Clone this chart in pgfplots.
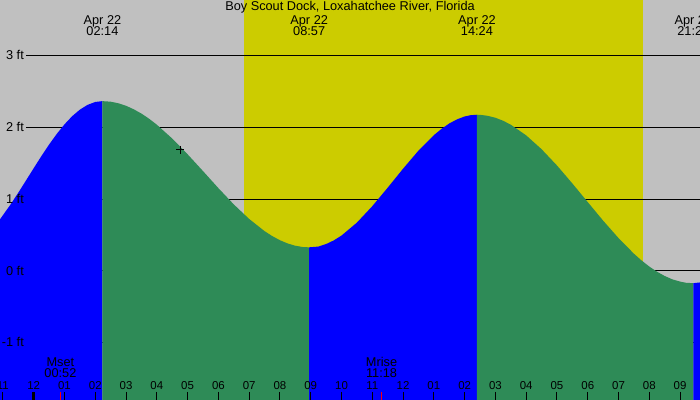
\documentclass[border=0pt]{standalone}
\usepackage{pgfplots}
\pgfplotsset{compat=1.18}
\usepackage{fontspec}
\setmainfont{Liberation Sans}
\definecolor{night}{RGB}{192,192,192}
\definecolor{day}{RGB}{204,204,0}
\definecolor{flood}{RGB}{0,0,255}
\definecolor{ebb}{RGB}{46,139,87}
\newcommand{\lab}{\fontsize{12.8}{14}\selectfont}
\newcommand{\tlab}{\fontsize{11.5}{13}\selectfont}
% hour tick: position, label
\newcommand{\tk}[2]{%
  \node[anchor=base,inner sep=0,font=\tlab] at (axis cs:#1,-1.660) {#2};
  \draw[line width=1bp] (axis cs:#1,-1.688) -- (axis cs:#1,-1.85);}
\newcommand{\ft}[2]{%
  \draw[line width=1bp] (axis cs:-0.25,#1) -- (axis cs:23,#1);}
\newcommand{\ftlab}[2]{%
  \node[anchor=base east,inner sep=0,font=\lab] at (axis cs:-0.315,#2) {#1 ft};}
\newcommand{\hilo}[2]{%
  \node[anchor=base,inner sep=0,font=\lab] at (axis cs:#1,3.446) {Apr 22};
  \node[anchor=base,inner sep=0,font=\lab] at (axis cs:#1,3.279) {#2};}
\begin{document}
\begin{tikzpicture}
\begin{axis}[width=700bp,height=400bp,scale only axis,
  xmin=-1.095,xmax=21.647,ymin=-1.8,ymax=3.781,
  hide axis,clip=true]
% night / day
\fill[night] (axis cs:-2,-2) rectangle (axis cs:23,4);
\fill[day] (axis cs:6.832,-2) rectangle (axis cs:19.795,4);
% height lines, behind the water
\ft{-1}{} \ft{0}{} \ft{1}{} \ft{2}{} \ft{3}{}
% rising (blue) and falling (green) water
\addplot[draw=none,fill=flood] coordinates {
(-1.2,-1.8) (-1.2,0.662) (-1.095,0.721) (-0.75,0.929) (-0.5,1.093) (-0.25,1.263)
(0,1.434) (0.25,1.603) (0.5,1.764) (0.75,1.913) (1,2.046) (1.25,2.160)
(1.5,2.251) (1.75,2.318) (2,2.358) (2.233,2.370) (2.233,-1.8)};
\addplot[draw=none,fill=ebb] coordinates {
(2.233,-1.8) (2.233,2.370) (2.5,2.362) (2.75,2.340) (3,2.305) (3.25,2.256)
(3.5,2.196) (3.75,2.124) (4,2.041) (4.5,1.848) (5,1.628) (5.5,1.394)
(6,1.156) (6.5,0.929) (7,0.726) (7.5,0.556) (7.75,0.487) (8,0.429)
(8.25,0.384) (8.5,0.352) (8.75,0.334) (8.95,0.330) (8.95,-1.8)};
\addplot[draw=none,fill=flood] coordinates {
(8.95,-1.8) (8.95,0.330) (9.25,0.341) (9.5,0.376) (9.75,0.427) (10,0.494)
(10.5,0.675) (11,0.904) (11.5,1.162) (12,1.427) (12.5,1.679) (13,1.895)
(13.25,1.983) (13.5,2.058) (13.75,2.115) (14,2.156) (14.2,2.174)
(14.4,2.180) (14.4,-1.8)};
\addplot[draw=none,fill=ebb] coordinates {
(14.4,-1.8) (14.4,2.180) (14.5,2.179) (14.75,2.165) (15,2.138) (15.25,2.096)
(15.5,2.041) (16,1.892) (16.5,1.699) (17,1.472) (17.5,1.221) (18,0.961)
(18.5,0.702) (19,0.459) (19.5,0.241) (19.75,0.146) (20,0.062) (20.25,-0.010)
(20.5,-0.070) (20.75,-0.117) (21,-0.148) (21.2,-0.165) (21.43,-0.170) (21.43,-1.8)};
\addplot[draw=none,fill=flood] coordinates {
(21.43,-1.8) (21.43,-0.170) (21.75,-0.155) (21.75,-1.8)};
% now marker
\addplot[only marks,mark=+,mark size=4bp,black,mark options={line width=1bp}]
  coordinates {(4.753,1.69)};
% labels
\ftlab{3}{2.944} \ftlab{2}{1.944} \ftlab{1}{0.944} \ftlab{0}{-0.056} \ftlab{-1}{-1.056}
\node[anchor=base,inner sep=0,font=\lab] at (axis cs:10.276,3.628)
  {Boy Scout Dock, Loxahatchee River, Florida};
\hilo{2.233}{02:14} \hilo{8.95}{08:57} \hilo{14.4}{14:24} \hilo{21.43}{21:26}
\node[anchor=base,inner sep=0,font=\lab] at (axis cs:0.867,-1.335) {Mset};
\node[anchor=base,inner sep=0,font=\lab] at (axis cs:0.867,-1.484) {00:52};
\node[anchor=base,inner sep=0,font=\lab] at (axis cs:11.3,-1.335) {Mrise};
\node[anchor=base,inner sep=0,font=\lab] at (axis cs:11.3,-1.484) {11:18};
% hour ticks
\tk{-1}{11} \tk{0}{12} \tk{1}{01} \tk{2}{02} \tk{3}{03} \tk{4}{04} \tk{5}{05}
\tk{6}{06} \tk{7}{07} \tk{8}{08} \tk{9}{09} \tk{10}{10} \tk{11}{11} \tk{12}{12}
\tk{13}{01} \tk{14}{02} \tk{15}{03} \tk{16}{04} \tk{17}{05} \tk{18}{06}
\tk{19}{07} \tk{20}{08} \tk{21}{09}
\draw[line width=3bp] (axis cs:0,-1.688) -- (axis cs:0,-1.85);
\draw[red,line width=1bp] (axis cs:0.867,-1.688) -- (axis cs:0.867,-1.85);
\draw[red,line width=1bp] (axis cs:11.3,-1.688) -- (axis cs:11.3,-1.85);
\end{axis}
\pgfresetboundingbox
\path[use as bounding box] (0,0) rectangle (700bp,400bp);
\end{tikzpicture}
\end{document}
